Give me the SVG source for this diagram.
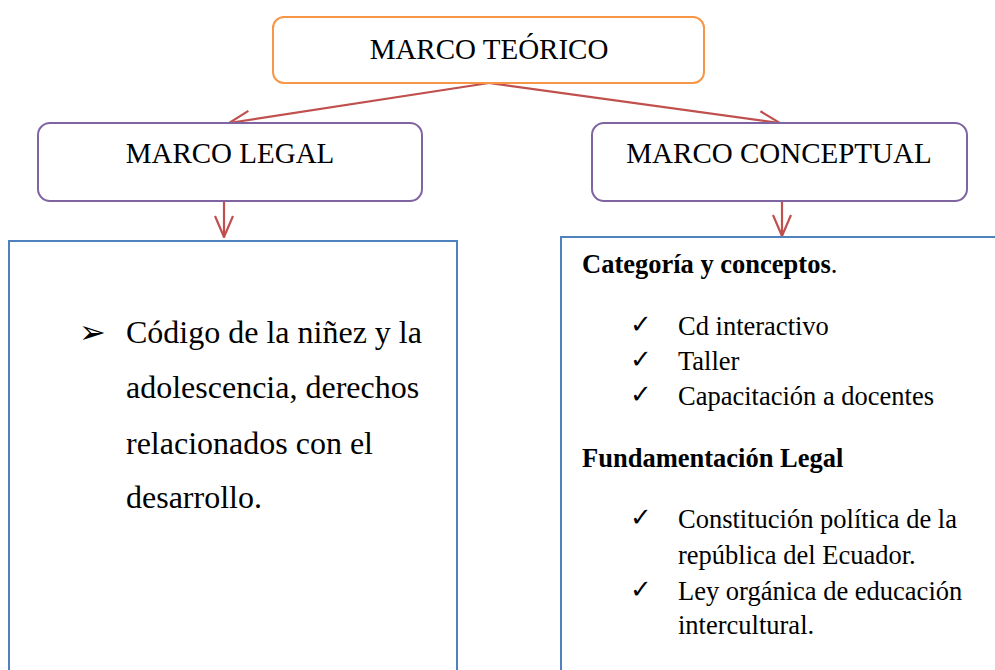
<svg xmlns="http://www.w3.org/2000/svg" width="995" height="670" viewBox="0 0 995 670">
<style>
.t{font-family:"Liberation Serif","Times New Roman",serif;fill:#000}
.h{font-size:29px;text-anchor:middle}
.l{font-size:32px}
.r{font-size:26.5px}
.b{font-weight:bold}
.sym{font-family:"DejaVu Sans",sans-serif;fill:#000}
.ck{font-size:26px}
.conn{stroke:#C0504D;stroke-width:2.2;fill:none}
</style>
<defs>
<marker id="ah" viewBox="0 0 24 24" refX="23" refY="12" markerWidth="24" markerHeight="24" markerUnits="userSpaceOnUse" orient="auto">
<path d="M2,3 L23,12 L2,21" fill="none" stroke="#C0504D" stroke-width="2.2"/>
</marker>
</defs>
<rect width="995" height="670" fill="#fff"/>
<g id="connectors">
<line class="conn" x1="489" y1="83" x2="229" y2="123" marker-end="url(#ah)"/>
<line class="conn" x1="489" y1="83" x2="780" y2="123" marker-end="url(#ah)"/>
<line class="conn" x1="224" y1="201" x2="224" y2="237" marker-end="url(#ah)"/>
<line class="conn" x1="782" y1="201" x2="782" y2="236" marker-end="url(#ah)"/>
</g>
<g id="marco-teorico">
<rect x="273" y="17" width="431" height="66" rx="11" fill="#fff" stroke="#F79646" stroke-width="2"/>
<text class="t h" x="489" y="59">MARCO TEÓRICO</text>
</g>
<g id="marco-legal">
<rect x="38" y="123" width="384" height="78" rx="12" fill="#fff" stroke="#8064A2" stroke-width="2"/>
<text class="t h" x="230" y="163">MARCO LEGAL</text>
</g>
<g id="marco-conceptual">
<rect x="592" y="123" width="375" height="78" rx="12" fill="#fff" stroke="#8064A2" stroke-width="2"/>
<text class="t h" x="779" y="163">MARCO CONCEPTUAL</text>
</g>
<g id="legal-content">
<rect x="9" y="241" width="448" height="440" fill="#fff" stroke="#4F81BD" stroke-width="2"/>
<text class="sym" x="79" y="343" font-size="32">➢</text>
<text class="t l" x="126" y="343">Código de la niñez y la</text>
<text class="t l" x="126" y="398">adolescencia, derechos</text>
<text class="t l" x="126" y="454">relacionados con el</text>
<text class="t l" x="126" y="508">desarrollo.</text>
</g>
<g id="conceptual-content">
<rect x="561" y="237" width="445" height="450" fill="#fff" stroke="#4F81BD" stroke-width="2"/>
<text class="t r" x="582" y="273"><tspan class="b">Categoría y conceptos</tspan>.</text>
<text class="sym ck" x="630" y="333">✓</text>
<text class="t r" x="678" y="335">Cd interactivo</text>
<text class="sym ck" x="630" y="368">✓</text>
<text class="t r" x="678" y="370">Taller</text>
<text class="sym ck" x="630" y="403">✓</text>
<text class="t r" x="678" y="405">Capacitación a docentes</text>
<text class="t r b" x="582" y="467">Fundamentación Legal</text>
<text class="sym ck" x="630" y="526">✓</text>
<text class="t r" x="678" y="528">Constitución política de la</text>
<text class="t r" x="678" y="564">república del Ecuador.</text>
<text class="sym ck" x="630" y="598">✓</text>
<text class="t r" x="678" y="600">Ley orgánica de educación</text>
<text class="t r" x="678" y="634">intercultural.</text>
</g>
</svg>
